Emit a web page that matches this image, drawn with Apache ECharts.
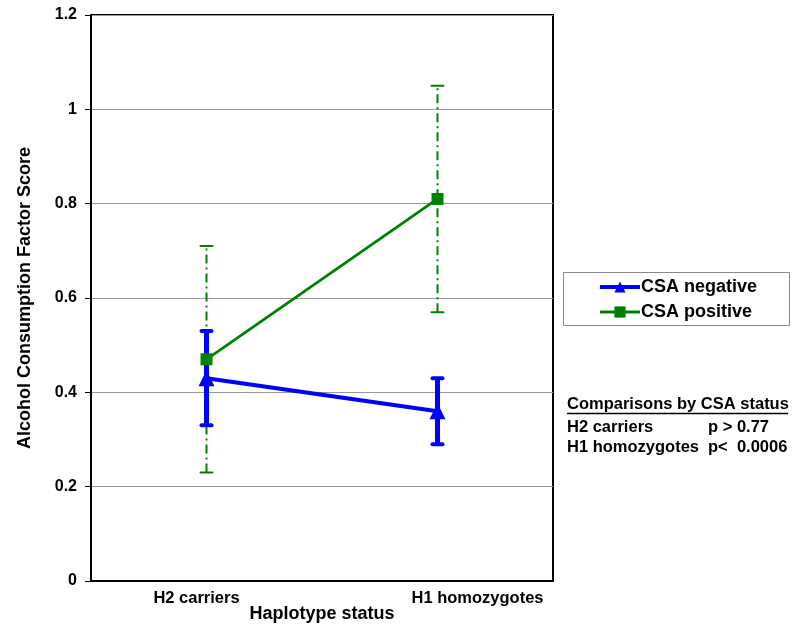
<!DOCTYPE html>
<html><head><meta charset="utf-8">
<script src="https://cdn.jsdelivr.net/npm/echarts@6/dist/echarts.min.js"></script>
<style>html,body{margin:0;padding:0;background:#fff}#c{width:800px;height:627px}</style>
</head><body><div id="c"></div>
<script>
var categories = ['H2 carriers', 'H1 homozygotes'];
var negMean = [0.43, 0.36];
var negLow = [0.33, 0.29];
var negHigh = [0.53, 0.43];
var posMean = [0.47, 0.81];
var posLow = [0.23, 0.57];
var posHigh = [0.71, 1.05];
var yTicks = [0, 0.2, 0.4, 0.6, 0.8, 1, 1.2];

var FONT = '"Liberation Sans", Arial, sans-serif';
var chart = echarts.init(document.getElementById('c'));

function errRender(color, width, dash, cap, capW) {
  return function (params, api) {
    var x = api.value(0);
    var lo = api.coord([x, api.value(1)]);
    var hi = api.coord([x, api.value(2)]);
    var st = {stroke: color, lineWidth: width, lineDash: dash};
    var capSt = {stroke: color, lineWidth: capW, lineCap: 'round'};
    return {type: 'group', children: [
      {type: 'line', shape: {x1: lo[0], y1: lo[1], x2: hi[0], y2: hi[1]}, style: st},
      {type: 'line', shape: {x1: lo[0] - cap, y1: lo[1], x2: lo[0] + cap, y2: lo[1]}, style: capSt},
      {type: 'line', shape: {x1: hi[0] - cap, y1: hi[1], x2: hi[0] + cap, y2: hi[1]}, style: capSt}
    ]};
  };
}
function errData(lo, hi) {
  return categories.map(function (c, i) { return [i, lo[i], hi[i]]; });
}

chart.setOption({
  animation: false,
  textStyle: {fontFamily: FONT},
  grid: {left: 91, top: 15, width: 462, height: 566, outerBoundsMode: 'none', containLabel: false,
    show: true, borderColor: '#000', borderWidth: 2, backgroundColor: 'transparent'},
  legend: {
    orient: 'vertical', left: 598, top: 278,
    padding: 0, itemGap: 7,
    itemWidth: 40, itemHeight: 14,
    textStyle: {fontSize: 18, fontWeight: 'bold', color: '#000', fontFamily: FONT, padding: [0, 0, 0, -4]},
    data: [
      {name: 'CSA negative', lineStyle: {width: 4}},
      {name: 'CSA positive', lineStyle: {width: 3}}
    ]
  },
  xAxis: {
    type: 'category', data: categories, boundaryGap: true,
    axisLine: {lineStyle: {color: '#000', width: 2}},
    axisTick: {show: false},
    axisLabel: {color: '#000', fontSize: 16.5, fontWeight: 'bold', margin: 9, fontFamily: FONT,
      formatter: function (v) { return v === categories[0] ? '{a|' + v + '}' : '{b|' + v + '}'; },
      rich: {
        a: {fontSize: 16.5, fontWeight: 'bold', color: '#000', fontFamily: FONT, padding: [0, 20, 0, 0]},
        b: {fontSize: 16.5, fontWeight: 'bold', color: '#000', fontFamily: FONT, padding: [0, 0, 0, 80]}
      }},
    name: 'Haplotype status', nameLocation: 'middle', nameGap: 24, nameMoveOverlap: false,
    nameTextStyle: {color: '#000', fontSize: 18, fontWeight: 'bold', fontFamily: FONT}
  },
  yAxis: {
    type: 'value', min: 0, max: 1.2, interval: 0.2,
    axisLine: {show: true, lineStyle: {color: '#000', width: 2}},
    axisTick: {show: true, length: 6, lineStyle: {color: '#000', width: 1}},
    splitLine: {lineStyle: {color: '#999', width: 1}},
    axisLabel: {color: '#000', fontSize: 16, fontWeight: 'bold', margin: 14, fontFamily: FONT,
      formatter: function (v) { var s = yTicks.filter(function (t) { return Math.abs(t - v) < 1e-9; }); return s.length ? String(s[0]) : ''; }},
    name: 'Alcohol Consumption Factor Score', nameLocation: 'middle', nameGap: 57, nameRotate: 90, nameMoveOverlap: false,
    nameTextStyle: {color: '#000', fontSize: 18, fontWeight: 'bold', fontFamily: FONT}
  },
  series: [
    {type: 'custom', name: 'posErr', renderItem: errRender('#008000', 2, [9, 4, 2, 4], 6, 2), data: errData(posLow, posHigh), z: 1, silent: true, encode: {x: 0, y: [1, 2]}},
    {type: 'custom', name: 'negErr', renderItem: errRender('#0000ff', 5, null, 5, 4), data: errData(negLow, negHigh), z: 2, silent: true, encode: {x: 0, y: [1, 2]}},
    {type: 'line', name: 'CSA positive', data: posMean, symbol: 'rect', symbolSize: 12,
      lineStyle: {color: '#008000', width: 2.8}, itemStyle: {color: '#008000'}, z: 3},
    {type: 'line', name: 'CSA negative', data: negMean, symbol: 'triangle', symbolSize: 16,
      lineStyle: {color: '#0000ff', width: 4}, itemStyle: {color: '#0000ff'}, z: 4}
  ],
  graphic: [
    {type: 'rect', shape: {x: 563.5, y: 272.5, width: 226, height: 53}, style: {fill: 'none', stroke: '#888', lineWidth: 1}},
    {type: 'text', left: 567, top: 396, style: {text: 'Comparisons by CSA status', font: 'bold 16.5px ' + FONT, fill: '#000'}},
    {type: 'line', shape: {x1: 567, y1: 413.5, x2: 788, y2: 413.5}, style: {stroke: '#000', lineWidth: 1.5}},
    {type: 'text', left: 567, top: 419, style: {text: 'H2 carriers', font: 'bold 16.5px ' + FONT, fill: '#000'}},
    {type: 'text', left: 708, top: 419, style: {text: 'p > 0.77', font: 'bold 16.5px ' + FONT, fill: '#000'}},
    {type: 'text', left: 567, top: 439, style: {text: 'H1 homozygotes', font: 'bold 16.5px ' + FONT, fill: '#000'}},
    {type: 'text', left: 708, top: 439, style: {text: 'p<  0.0006', font: 'bold 16.5px ' + FONT, fill: '#000', whiteSpace: 'pre'}}
  ]
});
</script></body></html>
